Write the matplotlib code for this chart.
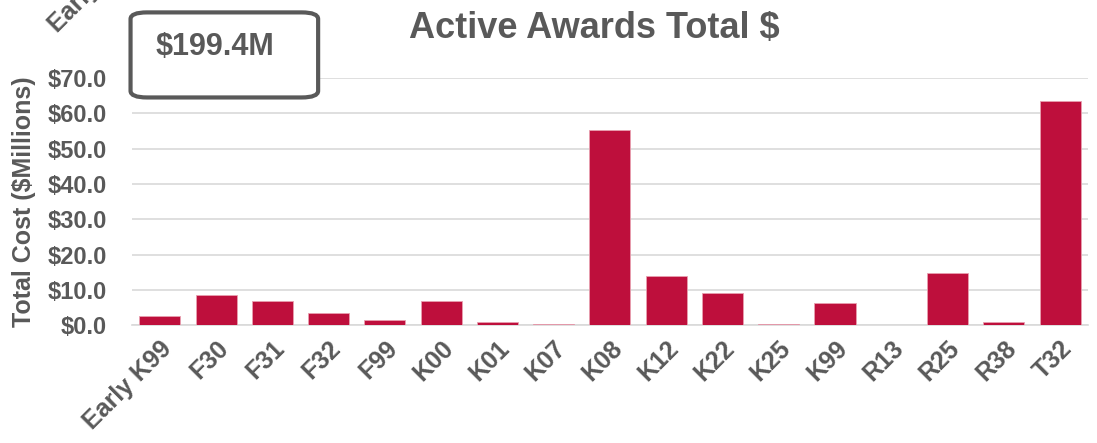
import matplotlib
matplotlib.use("Agg")
import matplotlib.pyplot as plt
from matplotlib.patches import FancyBboxPatch

categories = ["Early K99", "F30", "F31", "F32", "F99", "K00", "K01", "K07", "K08",
              "K12", "K22", "K25", "K99", "R13", "R25", "R38", "T32"]
values = [2.7, 8.5, 6.9, 3.5, 1.6, 6.9, 1.0, 0.4, 55.4,
          13.9, 9.0, 0.3, 6.3, 0.0, 14.9, 1.0, 63.6]
total_label = "$199.4M"
title = "Active Awards Total $"
ylabel = "Total Cost ($Millions)"

plt.rcParams["font.family"] = ["Liberation Sans", "DejaVu Sans"]
grey = "#595959"
bar_color = "#BE0F3C"

fig = plt.figure(figsize=(10.97, 4.43), dpi=100)
ax = fig.add_axes([0.12, 0.266, 0.872, 0.558])

x = list(range(len(categories)))
ax.bar(x, values, width=0.73, color=bar_color, edgecolor="#E8A0B0", linewidth=0.6, zorder=3)
ax.set_xlim(-0.5, len(categories) - 0.5)
ax.set_ylim(0, 70)
ax.set_yticks(range(0, 71, 10))
ax.set_yticklabels(["${:.1f}".format(v) for v in range(0, 71, 10)])
ax.set_xticks(x)
ax.set_xticklabels(categories, rotation=45, ha="right", rotation_mode="anchor")
ax.tick_params(axis="x", length=0, labelsize=18, labelcolor=grey, pad=8)
ax.tick_params(axis="y", length=0, labelsize=17, labelcolor=grey, pad=18)
for lbl in ax.get_xticklabels() + ax.get_yticklabels():
    lbl.set_fontweight("bold")
ax.grid(axis="y", color="#D9D9D9", linewidth=1.2, zorder=0)
for s in ["top", "right", "left"]:
    ax.spines[s].set_visible(False)
ax.spines["bottom"].set_color("#D9D9D9")
ax.spines["bottom"].set_linewidth(1.2)

ax.set_ylabel(ylabel, fontsize=18, fontweight="bold", color=grey, labelpad=8)

fig.text(0.542, 0.935, title, ha="center", va="center", fontsize=26,
         fontweight="bold", color=grey)

box = FancyBboxPatch((0.119, 0.78), 0.171, 0.192, transform=fig.transFigure,
                     boxstyle="round,pad=0,rounding_size=0.015",
                     facecolor="white", edgecolor=grey, linewidth=3, zorder=5)
fig.add_artist(box)
fig.text(0.196, 0.895, total_label, ha="center", va="center", fontsize=22,
         fontweight="bold", color=grey, zorder=6)

# clipped label from a chart above
fig.text(0.052, 0.925, "Early K99", rotation=45, rotation_mode="anchor",
         ha="left", va="baseline", fontsize=18, fontweight="bold", color=grey)

fig.savefig("out.png", dpi=100)
